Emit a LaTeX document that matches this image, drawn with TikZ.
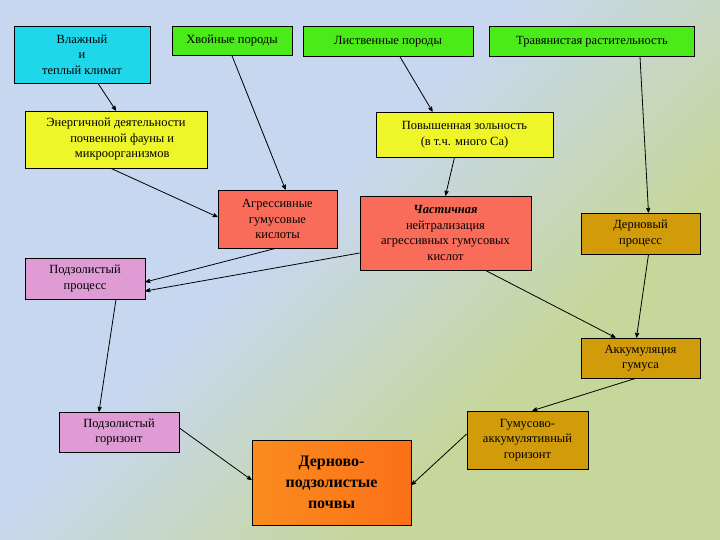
\documentclass[tikz,border=0pt]{standalone}
\usepackage{fontspec}
\setmainfont{Liberation Serif}
\usetikzlibrary{arrows}
\definecolor{cyanbox}{RGB}{30,215,235}
\definecolor{greenbox}{RGB}{75,235,25}
\definecolor{yellowbox}{RGB}{238,245,40}
\definecolor{redbox}{RGB}{250,108,90}
\definecolor{pinkbox}{RGB}{222,155,212}
\definecolor{goldbox}{RGB}{210,155,10}
\definecolor{orangebox}{RGB}{250,140,30}
\definecolor{bgblue}{RGB}{200,215,240}
\definecolor{bggreen}{RGB}{198,215,155}
\pgfdeclarehorizontalshading{bgshade}{100bp}{color(0bp)=(bggreen); color(44bp)=(bggreen); color(56bp)=(bgblue); color(100bp)=(bgblue)}
\tikzset{box/.style={draw, thick, align=center, font=\fontsize{12.5}{15.5}\selectfont, inner sep=1pt}}
\begin{document}
\begin{tikzpicture}[x=1pt,y=-1pt,>=stealth', thick]
			%Hintergrund
				\useasboundingbox (0,0) rectangle (720,540);
				\shade[shading=bgshade, shading angle=135] (-140,-270) rectangle (980,850);
			%Obere Reihe
				\node[box, fill=cyanbox, minimum width=136, minimum height=57] (klima) at (82,54.5) {Влажный\\и\\теплый климат};
				\node[box, fill=greenbox, minimum width=120, minimum height=29, anchor=north] (hvoy) at (232,26) {Хвойные породы};
				\node[box, fill=greenbox, minimum width=170, minimum height=30, anchor=north] (list) at (388,26) {Лиственные породы};
				\node[box, fill=greenbox, minimum width=205, minimum height=30, anchor=north] (trav) at (592,26) {Травянистая растительность};
			%Zweite Reihe
				\node[box, fill=yellowbox, minimum width=182, minimum height=57] (energ) at (116,139.5) {Энергичной деятельности\\\quad почвенной фауны и\\\quad микроорганизмов};
				\node[box, fill=yellowbox, minimum width=177, minimum height=45] (zol) at (464.5,134.5) {Повышенная зольность\\(в т.ч. много Са)};
				\node[box, fill=redbox, minimum width=119, minimum height=58] (agr) at (277.5,219) {Агрессивные\\гумусовые\\кислоты};
				\node[box, fill=redbox, minimum width=171, minimum height=74] (chast) at (445.5,233) {\textbf{\textit{Частичная}}\\нейтрализация\\агрессивных гумусовых\\кислот};
				\node[box, fill=goldbox, minimum width=119, minimum height=41] (dern) at (640.5,233.5) {Дерновый\\процесс};
				\node[box, fill=pinkbox, minimum width=120, minimum height=41] (podzp) at (85,278.5) {Подзолистый\\процесс};
				\node[box, fill=goldbox, minimum width=119, minimum height=40] (akk) at (640.5,358) {Аккумуляция\\гумуса};
				\node[box, fill=pinkbox, minimum width=120, minimum height=40] (podzg) at (119,432) {Подзолистый\\горизонт};
				\node[box, fill=goldbox, minimum width=121, minimum height=58] (gum) at (527.5,440) {Гумусово-\\аккумулятивный\\горизонт};
				\node[box, left color=orangebox, right color=orangebox!80!red, minimum width=159, minimum height=85, font=\fontsize{16}{21}\selectfont\bfseries] (pochv) at (331.5,482.5) {Дерново-\\подзолистые\\почвы};
			%Pfeile
				\draw[->] (klima.south) ++(16,0) -- (energ.north);
				\draw[->] (hvoy.south) -- ([xshift=8]agr.north);
				\draw[->] ([xshift=-5]energ.south) -- ([yshift=2]agr.west);
				\draw[->] ([xshift=12]list.south) -- ([xshift=-32]zol.north);
				\draw[->] ([xshift=48]trav.south) -- ([xshift=8]dern.north);
				\draw[->] ([xshift=-10]zol.south) -- (chast.north);
				\draw[->] ([xshift=-2]agr.south) -- ([yshift=-3.5]podzp.east);
				\draw[->] ([yshift=-20]chast.west) -- ([yshift=-12.5]podzp.east);
				\draw[->] ([xshift=40]chast.south) -- ([xshift=-25]akk.north);
				\draw[->] ([xshift=8]dern.south) -- ([xshift=-4]akk.north);
				\draw[->] ([xshift=-5]akk.south) -- ([xshift=5]gum.north);
				\draw[->] ([yshift=6]gum.west) -- ([yshift=-2.5]pochv.east);
				\draw[->] ([yshift=4]podzg.east) -- ([yshift=2.5]pochv.west);
				\draw[->] ([xshift=31]podzp.south) -- ([xshift=-20]podzg.north);
			\end{tikzpicture}
\end{document}
